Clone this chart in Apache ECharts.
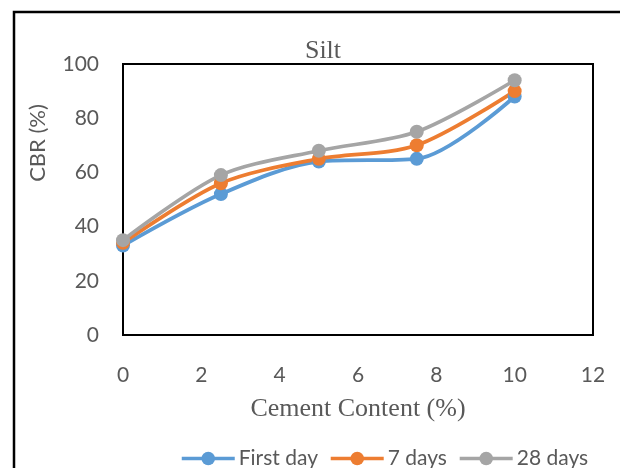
<!DOCTYPE html>
<html>
<head>
<meta charset="utf-8">
<script src="https://cdn.jsdelivr.net/npm/echarts@6/dist/echarts.min.js"></script>
<style>
  html, body { margin: 0; padding: 0; background: #ffffff; }
  #chart { width: 620px; height: 468px; }
</style>
</head>
<body>
<div id="chart"></div>
<script>
// Cement content (%) at which CBR was measured
const cementContent = [0, 2.5, 5, 7.5, 10];
// CBR (%) after each curing period
const firstDay = [33, 52, 64, 65, 88];
const sevenDays = [34, 56, 65, 70, 90];
const twentyEightDays = [35, 59, 68, 75, 94];
const seriesNames = ['First day', '7 days', '28 days'];
const seriesColors = ['#5B9BD5', '#ED7D31', '#A5A5A5'];

const pairs = (ys) => cementContent.map((x, i) => [x, ys[i]]);
const sansFont = 'Lato, "Liberation Sans", sans-serif';
const serifFont = '"Liberation Serif", "DejaVu Serif", serif';
const textGrey = '#595959';

function lineSeries(name, values, color) {
  return {
    name: name,
    type: 'line',
    data: pairs(values),
    smooth: 0.3,
    symbol: 'circle',
    symbolSize: 14,
    showSymbol: true,
    lineStyle: { color: color, width: 3.75 },
    itemStyle: { color: color },
    emphasis: { disabled: true }
  };
}

const chart = echarts.init(document.getElementById('chart'), null, { renderer: 'canvas' });
chart.setOption({
  animation: false,
  backgroundColor: '#ffffff',
  title: {
    text: 'Silt',
    left: 318,
    top: 33,
    textAlign: 'center',
    textStyle: { fontFamily: serifFont, fontSize: 26, fontWeight: 'normal', color: textGrey }
  },
  grid: {
    left: 123, right: 27, top: 64, bottom: 133,
    show: true, borderColor: '#000000', borderWidth: 2, backgroundColor: 'transparent'
  },
  legend: {
    data: seriesNames,
    left: 175,
    top: 443,
    itemWidth: 53,
    itemHeight: 17,
    itemGap: 11,
    lineStyle: { width: 3.5 },
    textStyle: { fontFamily: sansFont, fontSize: 21, color: textGrey, padding: [0, 0, 0, -1] }
  },
  xAxis: {
    type: 'value',
    min: 0, max: 12, interval: 2,
    name: 'Cement Content (%)',
    nameLocation: 'middle',
    nameGap: 61,
    nameTextStyle: { fontFamily: serifFont, fontSize: 26, color: textGrey },
    axisLine: { show: false },
    axisTick: { show: false },
    splitLine: { show: false },
    axisLabel: { margin: 30, fontFamily: sansFont, fontSize: 21, color: textGrey }
  },
  yAxis: {
    type: 'value',
    min: 0, max: 100, interval: 20,
    axisLine: { show: false },
    axisTick: { show: false },
    splitLine: { show: false },
    axisLabel: { margin: 24, fontFamily: sansFont, fontSize: 21, color: textGrey }
  },
  graphic: [
    {
      type: 'rect',
      shape: { x: 14, y: 12, width: 700, height: 600 },
      style: { fill: 'none', stroke: '#000000', lineWidth: 2.5 },
      silent: true
    },
    {
      type: 'text',
      x: 38, y: 143,
      rotation: Math.PI / 2,
      style: {
        text: 'CBR (%)',
        fontFamily: sansFont,
        fontSize: 22,
        fill: textGrey,
        align: 'center',
        verticalAlign: 'middle'
      },
      silent: true
    }
  ],
  series: [
    lineSeries(seriesNames[0], firstDay, seriesColors[0]),
    lineSeries(seriesNames[1], sevenDays, seriesColors[1]),
    lineSeries(seriesNames[2], twentyEightDays, seriesColors[2])
  ]
});
</script>
</body>
</html>
